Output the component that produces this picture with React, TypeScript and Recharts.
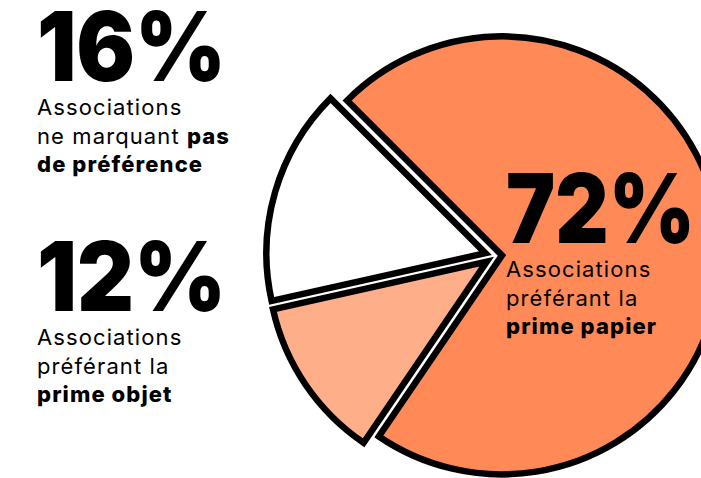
import { Cell, Pie, PieChart } from "recharts";

const categories = ["prime papier", "prime objet", "pas de préférence"];
const shares = [72, 12, 16];
const fills = ["#ff8a58", "#ffae8a", "#ffffff"];
// how far each slice is pulled out from the centre
const explode = [7, 10, 10];

const START = 135;
const CX = 490;
const CY = 251;
const RADIUS = 219;

const data = categories.map((name, i) => ({ name, value: shares[i] }));
const total = shares.reduce((a, b) => a + b, 0);

// offset each slice outward along its mid-angle
function sliceOffset(i: number) {
  const before = shares.slice(0, i).reduce((a, b) => a + b, 0);
  const mid = START - ((before + shares[i] / 2) / total) * 360;
  const rad = (mid * Math.PI) / 180;
  return { dx: explode[i] * Math.cos(rad), dy: -explode[i] * Math.sin(rad) };
}

type Block = {
  big: string;
  x: number;
  y: number;
  lines: { t: string; bold?: boolean }[][];
};

const blocks: Block[] = [
  {
    big: "16%",
    x: 37,
    y: 81,
    lines: [
      [{ t: "Associations" }],
      [{ t: "ne marquant " }, { t: "pas", bold: true }],
      [{ t: "de préférence", bold: true }],
    ],
  },
  {
    big: "12%",
    x: 37,
    y: 311,
    lines: [
      [{ t: "Associations" }],
      [{ t: "préférant la" }],
      [{ t: "prime objet", bold: true }],
    ],
  },
  {
    big: "72%",
    x: 506,
    y: 243,
    lines: [
      [{ t: "Associations" }],
      [{ t: "préférant la" }],
      [{ t: "prime papier", bold: true }],
    ],
  },
];

export default function App() {
  return (
    <div
      style={{
        position: "absolute",
        left: 0,
        top: 0,
        width: 701,
        height: 478,
        overflow: "hidden",
        background: "#fff",
      }}
    >
      <PieChart width={701} height={478}>
        {data.map((_, i) => {
          const { dx, dy } = sliceOffset(i);
          return (
            <Pie
              key={i}
              data={data}
              dataKey="value"
              cx={CX + dx}
              cy={CY + dy}
              outerRadius={RADIUS}
              startAngle={START}
              endAngle={START - 360}
              isAnimationActive={false}
            >
              {data.map((_, j) => (
                <Cell
                  key={j}
                  fill={j === i ? fills[j] : "none"}
                  stroke={j === i ? "#000" : "none"}
                  strokeWidth={6.5}
                  strokeLinejoin="miter"
                />
              ))}
            </Pie>
          );
        })}
      </PieChart>
      <svg
        width={701}
        height={478}
        style={{ position: "absolute", left: 0, top: 0, pointerEvents: "none" }}
        fontFamily="Inter, sans-serif"
      >
        {blocks.map((b) => (
          <g key={b.big}>
            <text
              x={b.x}
              y={b.y}
              fontSize={96}
              fontWeight={900}
              textLength={189}
              lengthAdjust="spacingAndGlyphs"
              fill="#000"
            >
              {b.big}
            </text>
            {b.lines.map((parts, k) => (
              <text
                key={k}
                x={b.x}
                y={b.y + 34 + k * 28.5}
                fontSize={22}
                letterSpacing={1.1}
                fill="#000"
              >
                {parts.map((p, m) => (
                  <tspan key={m} fontWeight={p.bold ? 800 : 400}>
                    {p.t}
                  </tspan>
                ))}
              </text>
            ))}
          </g>
        ))}
      </svg>
    </div>
  );
}
